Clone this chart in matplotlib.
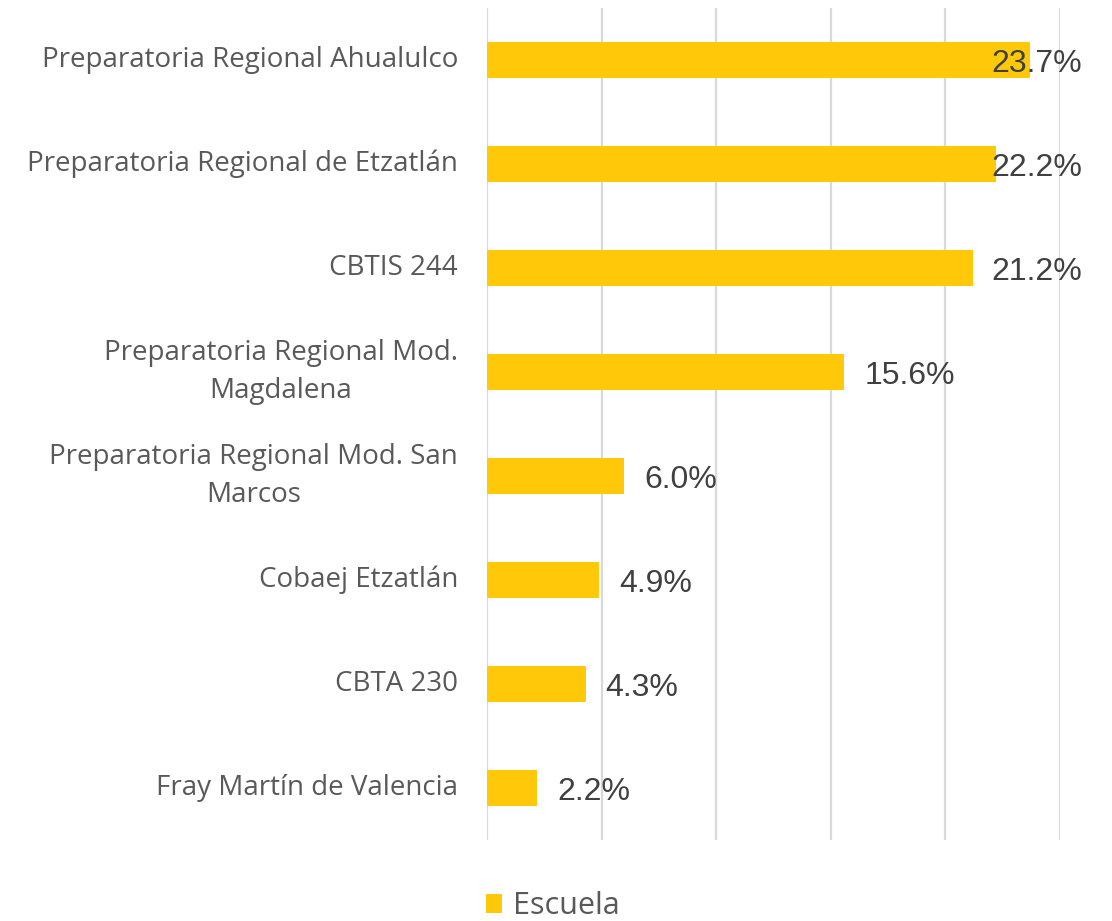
import matplotlib.pyplot as plt

escuelas = [
    "Preparatoria Regional Ahualulco",
    "Preparatoria Regional de Etzatlán",
    "CBTIS 244",
    "Preparatoria Regional Mod.\nMagdalena",
    "Preparatoria Regional Mod. San\nMarcos",
    "Cobaej Etzatlán",
    "CBTA 230",
    "Fray Martín de Valencia",
]
porcentajes = [23.7, 22.2, 21.2, 15.6, 6.0, 4.9, 4.3, 2.2]
serie = "Escuela"

AMARILLO = "#FFC90A"
GRIS_TEXTO = "#595959"
GRIS_VALOR = "#404040"
GRIS_REJILLA = "#D9D9D9"

fig = plt.figure(figsize=(11.12, 9.21), dpi=100, facecolor="white")
ax = fig.add_axes([0.438, 0.088, 0.515, 0.903])

y = list(range(len(escuelas)))
bars = ax.barh(y, porcentajes, height=0.35, color=AMARILLO, label=serie, zorder=2)

ax.set_xlim(0, 25)
ax.set_ylim(len(escuelas) - 0.5, -0.5)
ax.set_xticks([0, 5, 10, 15, 20, 25])
ax.set_xticklabels([])
ax.tick_params(axis="x", length=0)
ax.tick_params(axis="y", length=0, pad=21)
ax.grid(axis="x", color=GRIS_REJILLA, linewidth=1.6, zorder=0)
for s in ax.spines.values():
    s.set_visible(False)

ax.set_yticks(y)
ax.set_yticklabels(escuelas, fontsize=20, color=GRIS_TEXTO, family="Open Sans",
                   multialignment="center", linespacing=1.5, va="center")

# como en Excel: la etiqueta se desplaza hacia dentro si no cabe en el área
limite = 22.0
for b, v in zip(bars, porcentajes):
    x_txt = min(v + 0.87, limite)
    ax.text(x_txt, b.get_y() + b.get_height() / 2 + 0.04, f"{v:.1f}%",
            va="center", ha="left", fontsize=23, color=GRIS_VALOR,
            family="Liberation Sans", zorder=3, clip_on=False)

fig.legend(loc="lower center", bbox_to_anchor=(0.497, -0.03), frameon=False,
           prop={"family": "Open Sans", "size": 22}, labelcolor=GRIS_TEXTO,
           handlelength=0.55, handleheight=0.55, handletextpad=0.35)

fig.savefig("out.png", dpi=100, facecolor="white")
